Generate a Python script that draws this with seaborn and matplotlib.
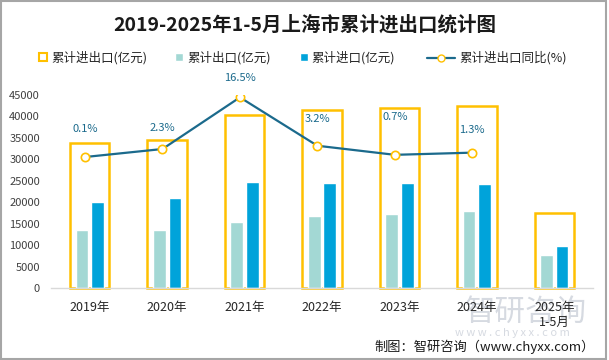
import seaborn as sns
import matplotlib.pyplot as plt
import pandas as pd
import numpy as np
from matplotlib.patches import Patch, Rectangle
from matplotlib.lines import Line2D

# data (亿元 / %)
years = ['2019年', '2020年', '2021年', '2022年', '2023年', '2024年', '2025年\n1-5月']
total = [33900, 34500, 40300, 41600, 41900, 42400, 17500]
exports = [13600, 13600, 15400, 16800, 17300, 18000, 7700]
imports = [20100, 21000, 24700, 24500, 24500, 24300, 9800]
yoy = [0.1, 2.3, 16.5, 3.2, 0.7, 1.3]
yoy_text = ['0.1%', '2.3%', '16.5%', '3.2%', '0.7%', '1.3%']
label_dy = [20, 15, 14, 19, 27, 16]  # label lift in points

YELLOW = '#FFC000'
TEAL = '#A3D8D4'
BLUE = '#00A3DA'
LINE = '#1B6A8C'

sns.set_style('white')
plt.rcParams['font.family'] = ['Noto Sans CJK SC', 'DejaVu Sans']

fig = plt.figure(figsize=(6.09, 3.6), dpi=100)
ax = fig.add_axes([51 / 609, 1 - 288.3 / 360, 542 / 609, 193.3 / 360])

long_df = pd.DataFrame({
    'year': years * 2,
    'kind': ['出口'] * len(years) + ['进口'] * len(years),
    'value': exports + imports,
})

# outline bar for total
sns.barplot(x=years, y=total, order=years, fill=False, color=YELLOW,
            width=0.51, linewidth=1.8, saturation=1, errorbar=None, ax=ax,
            clip_on=False)
# export / import bars
sns.barplot(data=long_df, x='year', y='value', hue='kind', order=years,
            palette=[TEAL, BLUE], width=0.4, gap=0.18, saturation=1,
            errorbar=None, legend=False, ax=ax)

ax.set_ylim(0, 45000)
ax.set_yticks(range(0, 45001, 5000))
ax.set_xlabel('')
ax.set_ylabel('')
ax.tick_params(axis='y', length=0, pad=8, labelsize=8, labelcolor='#404040')
ax.tick_params(axis='x', length=0, pad=9, labelsize=9, labelcolor='#262626')
for s in ['top', 'right', 'left']:
    ax.spines[s].set_visible(False)
ax.spines['bottom'].set_color('#D9D9D9')
ax.spines['bottom'].set_linewidth(1)

# yoy line on hidden secondary axis
ax2 = ax.twinx()
xs = np.arange(len(yoy)) - 0.06
sns.lineplot(x=xs, y=yoy, ax=ax2, color=LINE, linewidth=1.6, marker='o',
             markersize=6, markerfacecolor='white', markeredgecolor=YELLOW,
             markeredgewidth=1.2)
ax2.set_ylim(-36, 17.15)
ax2.axis('off')
for x, v, t, dy in zip(xs, yoy, yoy_text, label_dy):
    ax2.annotate(t, (x, v), xytext=(0, dy), textcoords='offset points',
                 ha='center', va='center', fontsize=8, color=LINE)
ax.set_xlim(-0.5, len(years) - 0.5)

# legend, one entry each
ly = 1 - 58 / 360
entries = [
    (Patch(facecolor='white', edgecolor=YELLOW, linewidth=1.5), '累计进出口(亿元)', 39, 0.6),
    (Patch(facecolor=TEAL), '累计出口(亿元)', 175, 0.6),
    (Patch(facecolor=BLUE), '累计进口(亿元)', 300, 0.6),
    (Line2D([], [], color=LINE, linewidth=1.6, marker='o', markersize=5,
            markerfacecolor='white', markeredgecolor=YELLOW), '累计进出口同比(%)', 427, 2.2),
]
for h, lab, x0, hl in entries:
    fig.legend([h], [lab], loc='center left', bbox_to_anchor=(x0 / 609, ly),
               frameon=False, fontsize=9, handlelength=hl, handleheight=0.6,
               handletextpad=0.35, borderpad=0, borderaxespad=0,
               labelcolor='#262626')

fig.text(0.5, 1 - 25 / 360, '2019-2025年1-5月上海市累计进出口统计图',
         ha='center', va='center', fontsize=14, fontweight='bold', color='#1a1a1a')

# watermark
fig.text(526 / 609, 1 - 312 / 360, '智研咨询', ha='center', va='center',
         fontsize=22, color='#D6DAE1', zorder=-1)
fig.text(512 / 609, 1 - 333 / 360, 'w w w . c h y x x . c o m', ha='center',
         va='center', fontsize=8, color='#D6DAE1', zorder=-1)

fig.text(595 / 609, 1 - 347 / 360, '制图：智研咨询（www.chyxx.com）',
         ha='right', va='center', fontsize=9.5, color='#1a1a1a')

fig.patches.append(Rectangle((0.001, 0.003), 0.994, 0.994, transform=fig.transFigure,
                             fill=False, edgecolor='#A6A6A6', linewidth=1.5))

fig.savefig('out.png', dpi=100)
